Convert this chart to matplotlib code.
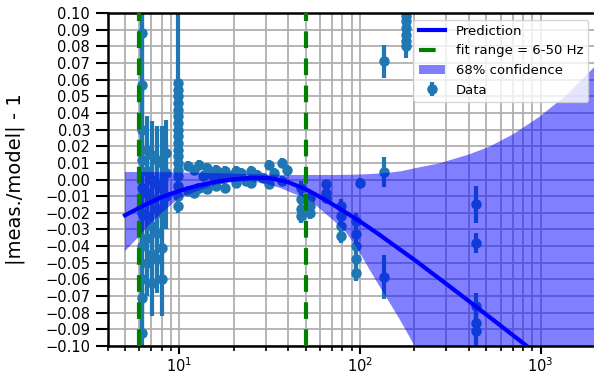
import matplotlib
matplotlib.use("Agg")
import matplotlib.pyplot as plt
from matplotlib.ticker import MultipleLocator
import numpy as np

# model prediction
pred_f = [5.0, 6.3, 7.9, 10, 12.6, 15.8, 20, 25.1, 31.6, 39.8, 50, 63, 79, 100, 126,
          158, 200, 251, 316, 398, 501, 631, 794, 1000, 1259]
pred_y = [-0.0215, -0.0158, -0.0108, -0.0068, -0.0037, -0.0014, 0.0002, 0.0010, 0.0008,
          -0.0015, -0.0058, -0.0117, -0.0182, -0.0252, -0.0326, -0.0403, -0.0482,
          -0.0563, -0.0645, -0.0728, -0.0812, -0.0896, -0.0980, -0.1065, -0.1150]

# 68% band
band_f = [5, 6, 6.8, 8, 10, 12.9, 16, 20, 25, 30, 36, 43, 50, 55, 62, 72, 84, 95, 110,
          128, 146, 170, 196, 275, 400, 520, 700, 987, 1400, 2000]
band_hi = [0.0045, 0.0045, 0.0045, 0.0044, 0.0042, 0.004, 0.0038, 0.0035, 0.0032, 0.003,
           0.0028, 0.0027, 0.0027, 0.0027, 0.0027, 0.0027, 0.0028, 0.0029, 0.0032,
           0.0036, 0.0041, 0.005, 0.0065, 0.0097, 0.015, 0.0197, 0.027, 0.0377, 0.051,
           0.068]
band_lo = [-0.043, -0.034, -0.027, -0.020, -0.011, -0.0065, -0.003, -0.0015, -0.001,
           -0.0025, -0.005, -0.0085, -0.011, -0.014, -0.019, -0.025, -0.032, -0.040,
           -0.052, -0.064, -0.074, -0.086, -0.098, -0.14, -0.2, -0.25, -0.32, -0.4,
           -0.5, -0.6]

# measurements: frequency, residual, error
data_f = ([6.24] * 10 + [6.6] * 6 + [7.05] * 6 + [7.55] * 5 + [8.0] * 5 + [8.4] * 3
          + [9.8] * 18
          + [11.2, 11.2, 12.0, 12.0, 12.8, 12.8, 13.5, 14.3, 14.3, 15.2, 16.0, 16.0, 17.0,
             18.0, 18.0, 19.2, 20.5, 20.5, 22.0, 23.5, 25.0, 25.0, 27.0, 29.0, 31.5,
             31.5, 33.5, 37.0, 37.0, 39.5]
          + [47] * 4 + [53] * 3 + [65] * 3 + [78] * 4 + [95] * 5 + [100]
          + [135] * 3 + [180] * 6 + [437] * 5)
data_y = ([0.088, 0.057, 0.03, 0.012, -0.005, -0.02, -0.04, -0.06, -0.071, -0.092]
          + [0.018, 0.005, -0.008, -0.022, -0.035, -0.05]
          + [0.015, 0.0, -0.012, -0.028, -0.045, -0.062]
          + [0.012, -0.003, -0.018, -0.032, -0.048]
          + [0.010, -0.005, -0.02, -0.041, -0.060]
          + [0.016, 0.004, -0.01]
          + [0.058, 0.054, 0.050, 0.046, 0.042, 0.038, 0.034, 0.030, 0.026, 0.022,
             0.018, 0.014, 0.010, 0.006, 0.002, -0.004, -0.010, -0.016]
          + [0.008, -0.007, 0.006, -0.008, 0.009, -0.005, 0.002, 0.007, -0.006, 0.003,
             0.006, -0.004, 0.001, 0.005, -0.005, 0.002, 0.005, -0.002, 0.004, -0.001,
             0.005, -0.002, 0.003, 0.001, 0.009, -0.003, 0.004, 0.010, -0.001, 0.006]
          + [-0.005, -0.012, -0.018, -0.022]
          + [-0.011, -0.016, -0.020]
          + [-0.003, -0.008, -0.011]
          + [-0.016, -0.022, -0.028, -0.034]
          + [-0.025, -0.033, -0.040, -0.048, -0.056]
          + [-0.002]
          + [0.071, 0.0045, -0.0585]
          + [0.098, 0.095, 0.091, 0.087, 0.083, 0.080]
          + [-0.015, -0.038, -0.076, -0.086, -0.091])
data_e = ([0.05, 0.06, 0.03, 0.02, 0.02, 0.015, 0.03, 0.02, 0.02, 0.03]
          + [0.02] * 6 + [0.02] * 6 + [0.02] * 5 + [0.022] * 5 + [0.02] * 3
          + [0.05] + [0.004] * 17
          + [0.003] * 30
          + [0.004] * 4 + [0.004] * 3 + [0.003] * 3 + [0.004] * 4 + [0.005] * 5 + [0.003]
          + [0.010, 0.009, 0.013]
          + [0.004, 0.004, 0.004, 0.004, 0.005, 0.007]
          + [0.011, 0.006, 0.008, 0.008, 0.010])

fit_lo = 6
fit_hi = 50

fig = plt.figure(figsize=(5.94, 3.76), dpi=100)
ax = fig.add_axes([107.5 / 594, 30 / 376, 487.5 / 594, 333 / 376])

eb = ax.errorbar(data_f, data_y, yerr=data_e, fmt='o', color='C0', ms=6.5,
                 elinewidth=3, capsize=0, zorder=2, label='Data')
band = ax.fill_between(band_f, band_lo, band_hi, color='blue', alpha=0.5,
                       lw=0, zorder=3, label='68% confidence')
pl, = ax.plot(pred_f, pred_y, color='blue', lw=3, zorder=5, label='Prediction')
vl = ax.axvline(fit_lo, color='green', ls='--', lw=3, dashes=(4, 2.5), zorder=4,
                label='fit range = 6-50 Hz')
ax.axvline(fit_hi, color='green', ls='--', lw=3, dashes=(4, 2.5), zorder=4)

ax.set_xscale('log')
ax.set_xlim(4, 2000)
ax.set_ylim(-0.10, 0.10)
ax.yaxis.set_major_locator(MultipleLocator(0.01))
ax.grid(True, which='both', color='#b0b0b0', lw=1.3, zorder=0)
ax.set_axisbelow(True)

ax.set_ylabel('|meas./model| - 1', fontsize=14)
ax.yaxis.set_label_coords(-0.170, 0.5)
ax.tick_params(axis='both', labelsize=10.5, width=1.5)
ax.tick_params(axis='y', length=9)
ax.tick_params(axis='x', which='major', length=6, pad=1.5)
ax.tick_params(axis='x', which='minor', length=3.5, width=1.2)
for s in ax.spines.values():
    s.set_linewidth(1.8)

ax.legend([pl, vl, band, eb], ['Prediction', 'fit range = 6-50 Hz', '68% confidence', 'Data'],
          loc='upper right', fontsize=9.5)

fig.savefig('out.png', dpi=100)
